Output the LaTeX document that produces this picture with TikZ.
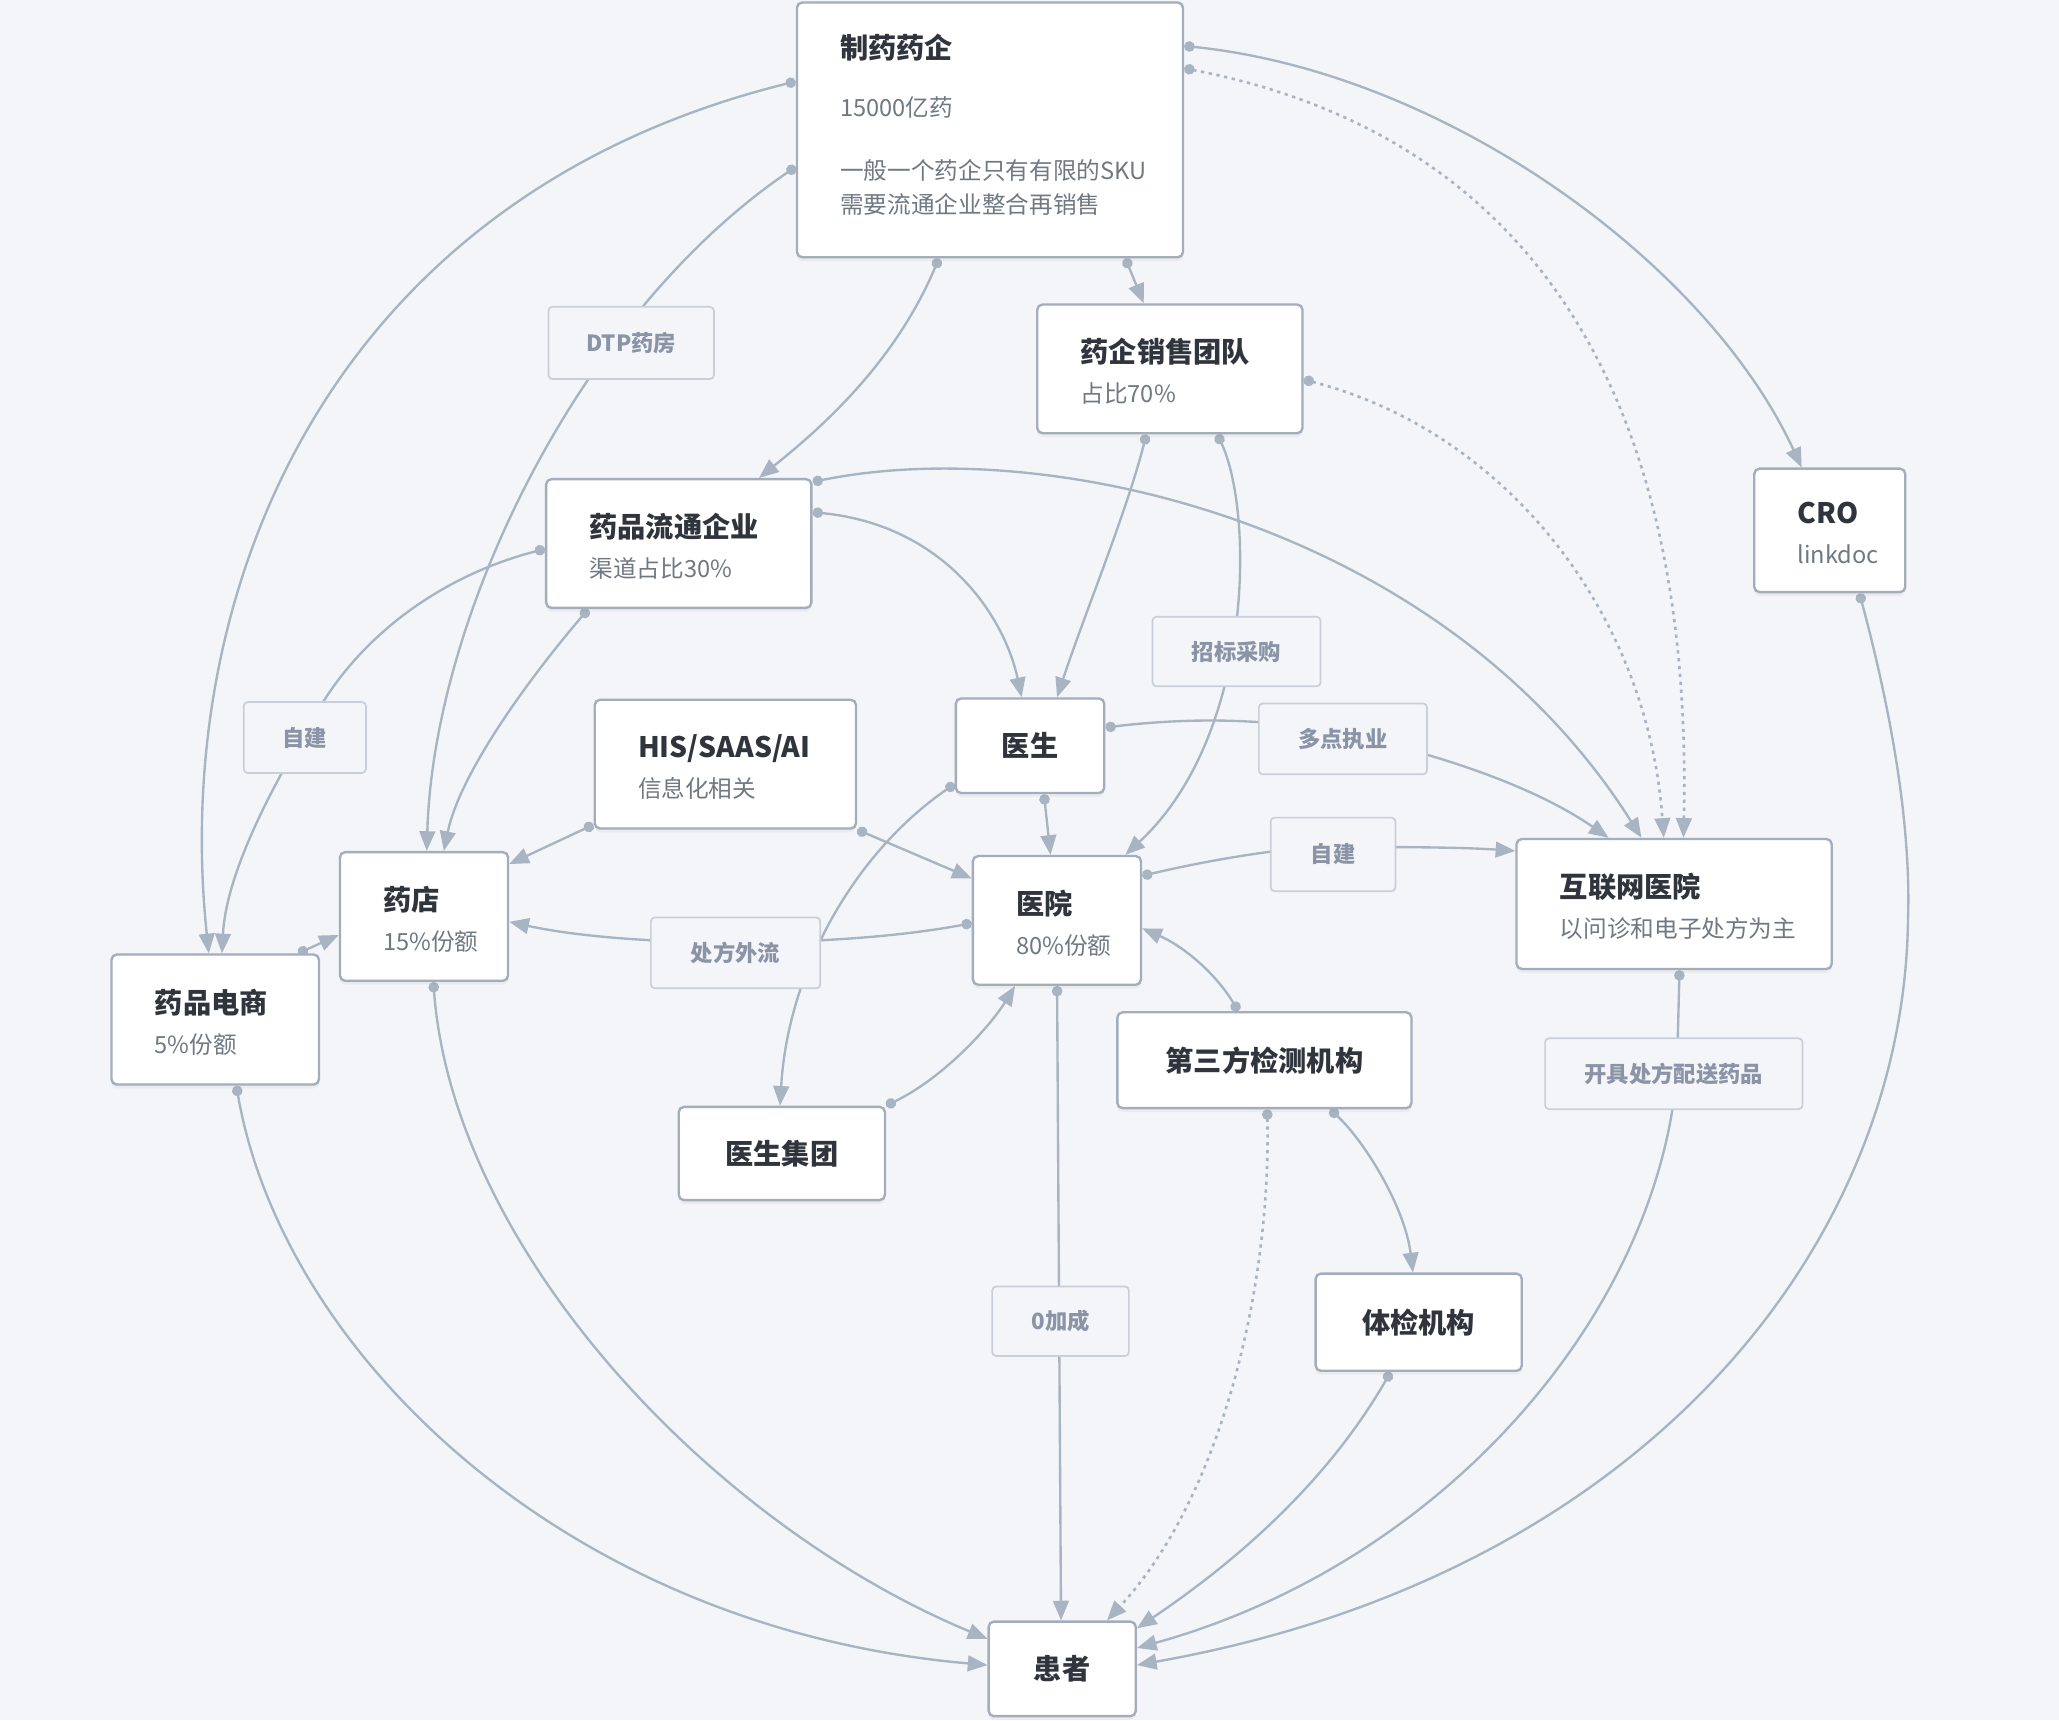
\documentclass[tikz,border=0pt]{standalone}
\usepackage{fontspec}
\setmainfont{Noto Sans CJK SC}
\usetikzlibrary{arrows.meta,shadows,calc}
\definecolor{bgc}{HTML}{F3F5F8}
\definecolor{edgec}{HTML}{A9B4C2}
\definecolor{boxb}{HTML}{A3ADBB}
\definecolor{lblb}{HTML}{C8CFD9}
\definecolor{titlec}{HTML}{30353D}
\definecolor{subc}{HTML}{707883}
\definecolor{lblt}{HTML}{8A94A6}
\pgfdeclarelayer{bglayer}\pgfdeclarelayer{edgelayer}
\pgfsetlayers{bglayer,edgelayer,main}
\newcommand{\cardtitle}[1]{{\leavevmode\fontsize{21.5}{26}\selectfont\bfseries\color{titlec}#1\par}}
\newcommand{\cardsub}[1]{{\leavevmode\fontsize{18}{26}\selectfont\color{subc}#1\par}}
\newcommand{\padtop}[1]{\hrule height 0pt width 0pt\kern#1\relax}
\newcommand{\padbot}[1]{\par\kern#1\hrule height 0pt width 0pt\relax}
\newcommand{\twoline}[2]{\leftskip=33pt \padtop{4pt}\cardtitle{#1}\vspace{4.5pt}\cardsub{#2}}
\tikzset{
 card/.style={draw=boxb, line width=1.8pt, fill=white, rounded corners=4pt, anchor=north west,
   drop shadow={shadow xshift=0pt,shadow yshift=-3pt,opacity=0.08}},
 lcard/.style 2 args={card, minimum width=#1, minimum height=#2, text width=#1, inner xsep=0pt, inner ysep=0pt, align=left, font=\fontsize{18}{26}\selectfont},
 ccard/.style 2 args={card, minimum width=#1, minimum height=#2, inner sep=0pt, align=center, font=\fontsize{21.5}{26}\selectfont\bfseries, text=titlec},
 tag/.style 2 args={draw=lblb, line width=1.3pt, fill=bgc, rounded corners=3pt, anchor=north west, minimum width=#1, minimum height=#2, inner sep=0pt, font=\fontsize{17}{20}\selectfont\bfseries, text=lblt},
 conn/.style={draw=edgec, line width=1.8pt, {Circle[length=8pt]}-{Triangle[length=15pt,width=12pt]}},
 dotconn/.style={conn, line width=2pt, dash pattern=on 2.5pt off 3.5pt},
}
\begin{document}
\begin{tikzpicture}[x=1pt,y=-1pt]
\begin{pgfonlayer}{bglayer}
\fill[bgc] (0,0) rectangle (1568,1310);
\end{pgfonlayer}
\useasboundingbox (0,0) rectangle (1568,1310);
% cards
\node[lcard={294pt}{194pt}] (pharma) at (606,1) {\leftskip=33pt \cardtitle{制药药企}\vspace{18pt}\cardsub{15000亿药}\vspace{22pt}\cardsub{一般一个药企只有有限的SKU\\需要流通企业整合再销售}\padbot{8pt}};
\node[lcard={202pt}{98pt}] (sales) at (789,231) {\twoline{药企销售团队}{占比70\%}};
\node[lcard={115pt}{94pt}] (cro) at (1335,356) {\twoline{CRO}{linkdoc}};
\node[lcard={202pt}{98pt}] (dist) at (415,364) {\twoline{药品流通企业}{渠道占比30\%}};
\node[lcard={199pt}{98pt}] (his) at (452,532) {\twoline{HIS/SAAS/AI}{信息化相关}};
\node[ccard={113pt}{72pt}] (doctor) at (727,531) {医生};
\node[lcard={240pt}{99pt}] (ihosp) at (1154,638) {\twoline{互联网医院}{以问诊和电子处方为主}};
\node[lcard={128pt}{98pt}] (store) at (258,648) {\twoline{药店}{15\%份额}};
\node[lcard={158pt}{99pt}] (ecom) at (84,726) {\twoline{药品电商}{5\%份额}};
\node[lcard={128pt}{98pt}] (hosp) at (740,651) {\twoline{医院}{80\%份额}};
\node[ccard={224pt}{73pt}] (lab) at (850,770) {第三方检测机构};
\node[ccard={157pt}{71pt}] (dgroup) at (516,842) {医生集团};
\node[ccard={157pt}{74pt}] (exam) at (1001,969) {体检机构};
\node[ccard={112pt}{72pt}] (patient) at (752,1234) {患者};
% tags
\node[tag={126pt}{55pt}] (tdtp) at (417,233) {DTP药房};
\node[tag={93pt}{54pt}] (tzj1) at (185,534) {自建};
\node[tag={128pt}{53pt}] (tzb) at (877,469) {招标采购};
\node[tag={128pt}{54pt}] (tdd) at (958,535) {多点执业};
\node[tag={95pt}{56pt}] (tzj2) at (967,622) {自建};
\node[tag={129pt}{54pt}] (tcf) at (495,698) {处方外流};
\node[tag={196pt}{54pt}] (tkj) at (1176,790) {开具处方配送药品};
\node[tag={104pt}{53pt}] (tzero) at (755,979) {0加成};
% connectors
\begin{pgfonlayer}{edgelayer}
\draw[conn] (pharma.west |- 0,62) .. controls (250,150) and (130,450) .. (ecom.north -| 159,0);
\draw[conn] (pharma.west |- 0,127) .. controls (440,240) and (330,470) .. (store.north -| 325,0);
\draw[conn] (pharma.south -| 715,0) .. controls (680,280) and (620,330) .. (dist.north -| 578,0);
\draw[conn] (pharma.south -| 857,0) -- (sales.north -| 871,0);
\draw[conn] (pharma.east |- 0,35) .. controls (1100,55) and (1300,200) .. (cro.north -| 1372,0);
\draw[dotconn] (pharma.east |- 0,52) .. controls (1150,100) and (1290,280) .. (ihosp.north -| 1282,0);
\draw[dotconn] (sales.east |- 0,289) .. controls (1150,330) and (1255,470) .. (ihosp.north -| 1267,0);
\draw[conn] (sales.south -| 873,0) .. controls (858,390) and (825,470) .. (doctor.north -| 805,0);
\draw[conn] (sales.south -| 927,0) .. controls (955,390) and (955,560) .. (hosp.north -| 857,0);
\draw[conn] (dist.east |- 0,390) .. controls (720,400) and (765,470) .. (doctor.north -| 778,0);
\draw[conn] (dist.east |- 0,367) .. controls (800,330) and (1100,400) .. (ihosp.north -| 1250,0);
\draw[conn] (dist.west |- 0,418) .. controls (330,440) and (270,490) .. (240,545) .. controls (200,610) and (172,670) .. (ecom.north -| 169,0);
\draw[conn] (dist.south -| 448,0) .. controls (400,520) and (350,590) .. (store.north -| 338,0);
\draw[conn] (his.west |- 0,628) -- (store.east |- 0,658);
\draw[conn] (his.south east) -- (hosp.west |- 0,669);
\draw[conn] (hosp.west |- 0,703) .. controls (640,722) and (480,722) .. (store.east |- 0,702);
\draw[conn] (doctor.west |- 0,597) .. controls (650,650) and (600,740) .. (dgroup.north -| 594,0);
\draw[conn] (dgroup.north east) .. controls (720,820) and (755,780) .. (hosp.south -| 773,0);
\draw[conn] (doctor.south -| 795,0) -- (hosp.north -| 800,0);
\draw[conn] (doctor.east |- 0,554) .. controls (900,547) and (960,546) .. (1020,558) .. controls (1100,575) and (1170,600) .. (ihosp.north -| 1225,0);
\draw[conn] (hosp.east |- 0,667) .. controls (920,655) and (980,645) .. (1012,645) .. controls (1060,645) and (1110,645) .. (ihosp.west |- 0,648);
\draw[conn] (lab.north -| 943,0) .. controls (925,740) and (900,720) .. (hosp.east |- 0,707);
\draw[conn] (hosp.south -| 805,0) -- (patient.north -| 808,0);
\draw[dotconn] (lab.south -| 965,0) .. controls (968,980) and (930,1140) .. (patient.north -| 843,0);
\draw[conn] (lab.south -| 1013,0) .. controls (1040,870) and (1070,920) .. (exam.north -| 1076,0);
\draw[conn] (exam.south -| 1059,0) .. controls (1010,1130) and (940,1190) .. (patient.east |- 0,1240);
\draw[conn] (ihosp.south -| 1279,0) -- (1277,817) .. controls (1262,1000) and (1100,1190) .. (patient.east |- 0,1255);
\draw[conn] (cro.south -| 1416,0) .. controls (1445,560) and (1455,640) .. (1453,700) .. controls (1450,950) and (1250,1200) .. (patient.east |- 0,1268);
\draw[conn] (store.south -| 330,0) .. controls (345,950) and (540,1160) .. (patient.west |- 0,1248);
\draw[conn] (ecom.south -| 180,0) .. controls (215,1030) and (430,1240) .. (patient.west |- 0,1268);
\draw[conn] (ecom.north -| 227,0) -- (store.west |- 0,712);
\end{pgfonlayer}
\end{tikzpicture}
\end{document}
